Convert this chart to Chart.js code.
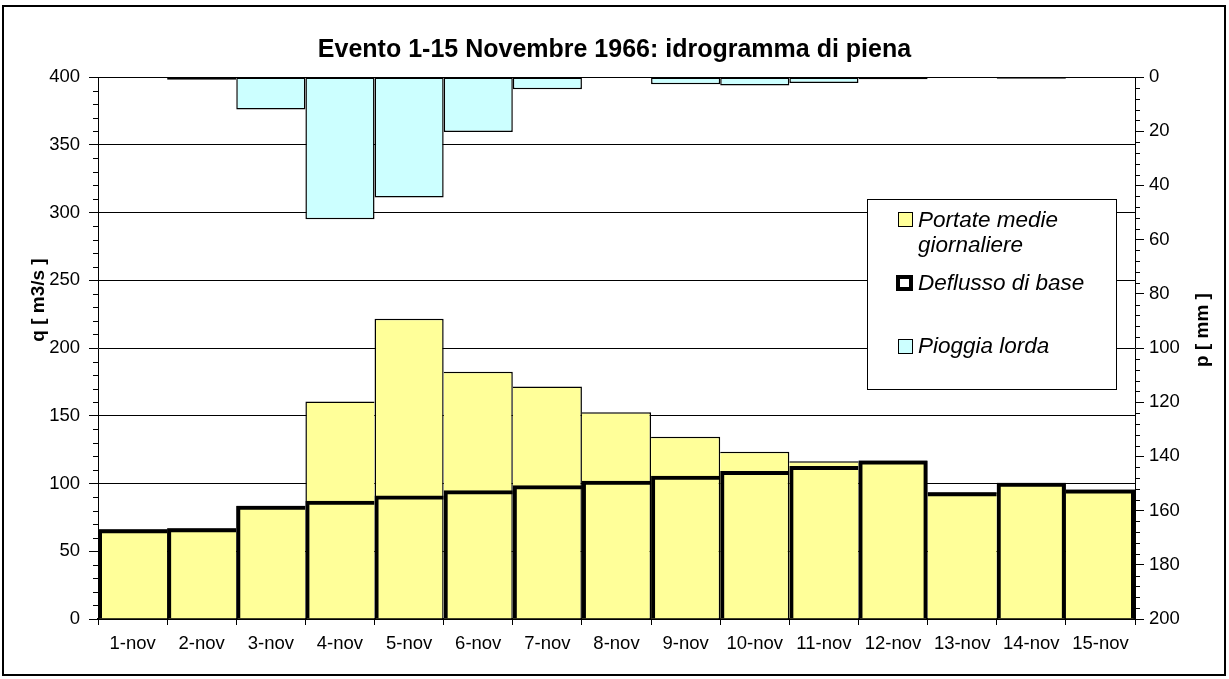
<!DOCTYPE html>
<html><head><meta charset="utf-8">
<script src="https://cdn.jsdelivr.net/npm/chart.js@4.4.1/dist/chart.umd.min.js"></script>
<style>html,body{margin:0;padding:0;background:#fff;}#wrap{position:relative;width:1229px;height:679px;}</style>
</head><body><div id="wrap"><canvas id="c" width="1229" height="679"></canvas></div>
<script>
const categories = ['1-nov','2-nov','3-nov','4-nov','5-nov','6-nov','7-nov','8-nov','9-nov','10-nov','11-nov','12-nov','13-nov','14-nov','15-nov'];
const portate = [66.3, 67, 83.6, 160.5, 221.5, 182.5, 171.5, 152.5, 134.5, 123.5, 116.5, 116.9, 93.5, 100.6, 95.5];
const deflusso = [66.3, 67, 83.6, 87.2, 91.2, 95, 98.7, 102, 105.8, 109.3, 113, 116.9, 93.5, 100.6, 95.5];
const pioggia = [0, 1, 12, 52.5, 44.5, 20.3, 4.5, 0, 2.7, 3.1, 2.2, 0.8, 0, 0.6, 0];
const seriesNames = ['Portate medie giornaliere', 'Deflusso di base', 'Pioggia lorda'];
const legendLines = [['Portate medie', 'giornaliere'], ['Deflusso di base'], ['Pioggia lorda']];
const titleText = 'Evento 1-15 Novembre 1966: idrogramma di piena';
const qAxisTitle = 'q [ m3/s ]';
const pAxisTitle = 'p [ mm ]';

const FONT = "'Liberation Sans', Arial, sans-serif";

function edgeBorders(vals, w, topW) {
  return function(ctx) {
    const i = ctx.dataIndex;
    const v = vals[i];
    const prev = i > 0 ? vals[i - 1] : -Infinity;
    const next = i < vals.length - 1 ? vals[i + 1] : -Infinity;
    return { top: topW, bottom: 0, left: v >= prev ? w : 0, right: v > next ? w : 0 };
  };
}

const overlay = {
  id: 'overlay',
  afterDraw(chart) {
    const ctx = chart.ctx;
    const y = chart.scales.y, y2 = chart.scales.y2;
    ctx.save();
    ctx.strokeStyle = '#000';
    ctx.lineWidth = 1;
    for (let v = 0; v <= 400; v += 10) {
      if (v % 50 === 0) continue;
      const p = Math.round(y.getPixelForValue(v)) + 0.5;
      ctx.beginPath(); ctx.moveTo(y.right - 5, p); ctx.lineTo(y.right, p); ctx.stroke();
    }
    for (let v = 0; v <= 200; v += 4) {
      if (v % 20 === 0) continue;
      const p = Math.round(y2.getPixelForValue(v)) + 0.5;
      ctx.beginPath(); ctx.moveTo(y2.left, p); ctx.lineTo(y2.left + 5, p); ctx.stroke();
    }
    ctx.fillStyle = '#000';
    ctx.font = "bold 19px " + FONT;
    ctx.textAlign = 'center'; ctx.textBaseline = 'middle';
    ctx.save(); ctx.translate(39, 300); ctx.rotate(-Math.PI / 2); ctx.fillText(qAxisTitle, 0, 0); ctx.restore();
    ctx.save(); ctx.translate(1203, 330); ctx.rotate(-Math.PI / 2); ctx.fillText(pAxisTitle, 0, 0); ctx.restore();
    // legend
    ctx.fillStyle = '#fff';
    ctx.fillRect(867.5, 199.5, 249, 190);
    ctx.strokeStyle = '#000'; ctx.lineWidth = 1;
    ctx.strokeRect(867.5, 199.5, 249, 190);
    const ds = chart.data.datasets;
    ctx.font = "italic 22.5px " + FONT;
    ctx.textAlign = 'left'; ctx.textBaseline = 'alphabetic';
    ctx.fillStyle = ds[1].backgroundColor; ctx.fillRect(898, 212, 14, 14);
    ctx.strokeStyle = '#000'; ctx.lineWidth = 1; ctx.strokeRect(898.5, 212.5, 14, 14);
    ctx.fillStyle = '#000';
    ctx.fillText(legendLines[0][0], 918, 227);
    ctx.fillText(legendLines[0][1], 918, 252);
    ctx.strokeStyle = '#000'; ctx.lineWidth = 4; ctx.strokeRect(898, 277, 13, 12);
    ctx.fillText(legendLines[1][0], 918, 290);
    ctx.fillStyle = ds[2].backgroundColor; ctx.fillRect(898, 339, 14, 14);
    ctx.strokeStyle = '#000'; ctx.lineWidth = 1; ctx.strokeRect(898.5, 339.5, 14, 14);
    ctx.fillStyle = '#000';
    ctx.fillText(legendLines[2][0], 918, 353);
    ctx.strokeStyle = '#000'; ctx.lineWidth = 2;
    ctx.strokeRect(3, 6, 1222, 669);
    ctx.restore();
  }
};

new Chart(document.getElementById('c'), {
  type: 'bar',
  data: {
    labels: categories,
    datasets: [
      {
        label: seriesNames[1], data: deflusso, yAxisID: 'y', order: 0,
        backgroundColor: 'rgba(0,0,0,0)', borderColor: '#000',
        borderWidth: edgeBorders(deflusso, 4, 4), borderSkipped: false, inflateAmount: 0,
        barPercentage: 1, categoryPercentage: 1, grouped: false
      },
      {
        label: seriesNames[0], data: portate, yAxisID: 'y', order: 1,
        backgroundColor: '#FFFF99', borderColor: '#000',
        borderWidth: edgeBorders(portate, 1.5, 1.5), borderSkipped: false, inflateAmount: 0,
        barPercentage: 1, categoryPercentage: 1, grouped: false
      },
      {
        label: seriesNames[2], data: pioggia, yAxisID: 'y2', order: 2,
        backgroundColor: '#CCFFFF', borderColor: '#000',
        borderWidth: 1.5, borderSkipped: false, inflateAmount: 0,
        barPercentage: 1, categoryPercentage: 1, grouped: false
      }
    ]
  },
  options: {
    responsive: false, animation: false, devicePixelRatio: 1,
    layout: { padding: 0 },
    plugins: {
      legend: { display: false },
      tooltip: { enabled: false },
      title: {
        display: true, text: titleText, color: '#000',
        font: { family: FONT, size: 25, weight: 'bold', lineHeight: 1.2 },
        padding: { top: 35, bottom: 12 }
      }
    },
    scales: {
      x: {
        offset: true,
        grid: { offset: true, drawOnChartArea: false, drawTicks: true, tickLength: 6, tickColor: '#000' },
        border: { color: '#000', width: 2 },
        ticks: { color: '#000', font: { family: FONT, size: 18.5 }, padding: 8, maxRotation: 0, autoSkip: false },
        afterFit(s) { s.height = 60; }
      },
      y: {
        position: 'left', min: 0, max: 400,
        ticks: { stepSize: 50, color: '#000', font: { family: FONT, size: 18.5 }, padding: 9 },
        grid: { color: '#000', lineWidth: 1, tickLength: 9, tickColor: '#000' },
        border: { color: '#000', width: 1 },
        afterFit(s) { s.width = 98; }
      },
      y2: {
        position: 'right', min: 0, max: 200, reverse: true,
        ticks: { stepSize: 20, color: '#000', font: { family: FONT, size: 18.5 }, padding: 5 },
        grid: { drawOnChartArea: false, tickLength: 9, tickColor: '#000' },
        border: { color: '#000', width: 1 },
        afterFit(s) { s.width = 94; }
      }
    }
  },
  plugins: [overlay]
});
</script></body></html>
